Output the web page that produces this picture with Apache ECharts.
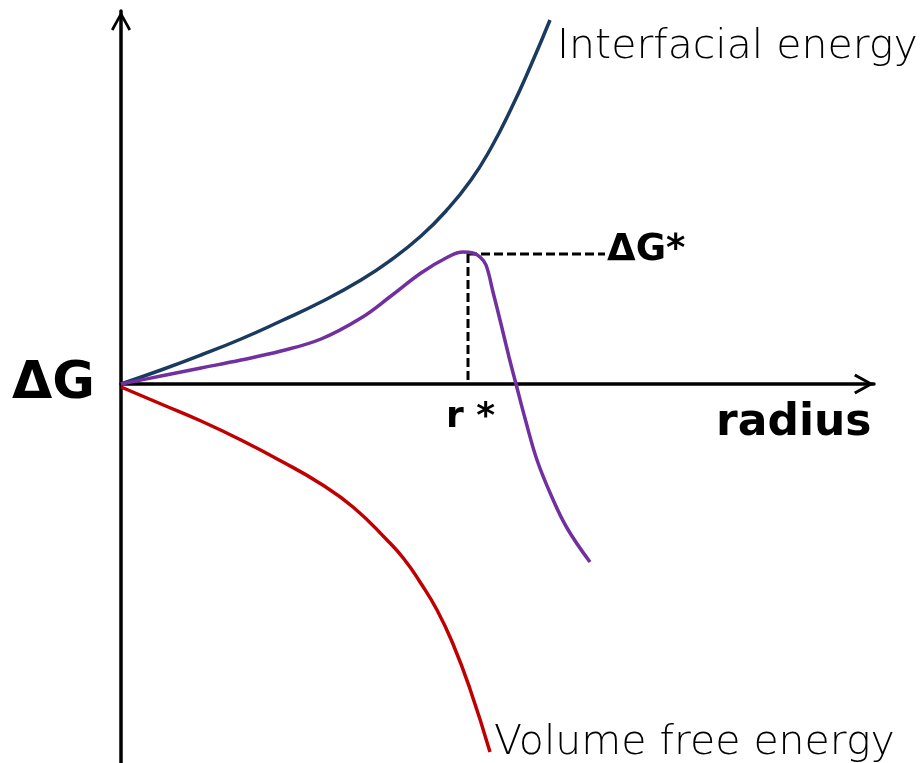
<!DOCTYPE html>
<html>
<head>
<meta charset="utf-8">
<script src="https://cdn.jsdelivr.net/npm/echarts@6/dist/echarts.min.js"></script>
<style>
  html, body { margin: 0; padding: 0; background: #fff; }
  #chart { width: 920px; height: 763px; }
</style>
</head>
<body>
<div id="chart"></div>
<script>
// radius (x) vs free energy change (y), arbitrary units
var interfacialEnergy = [[0,0],[40,14],[80,29],[120,45],[160,63],[200,82],[240,104],[270,124],[300,148],[325,173],[350,204],[370,236],[390,275],[410,319],[429,364]]
var totalEnergy = [[0,0],[40,8],[80,16],[120,24],[160,33],[200,45],[240,66],[270,88],[300,111],[325,126],[342,132],[352,131],[359,127],[365,119],[372,92],[380,60],[388,27],[395,0],[405,-38],[416,-76],[430,-111],[446,-144],[469,-178]]
var volumeEnergy = [[0,-3],[40,-20],[80,-37],[120,-56],[160,-77],[200,-100],[232,-123],[266,-156],[283,-175],[299,-198],[316,-226],[332,-260],[349,-305],[369,-368]]
var rStar = 347
var dGStar = 130
var dGStarLineEnd = 484

var chevron = 'path://M10,0 L20,18 L17.6,19.6 L10,5.6 L2.4,19.6 L0,18 Z'
var font = '"DejaVu Sans", sans-serif'

var chart = echarts.init(document.getElementById('chart'))

chart.setOption({
    backgroundColor: '#ffffff',
    animation: false,
    grid: { left: 121, right: 46, top: 11, bottom: 0 },
    xAxis: {
        type: 'value',
        min: 0,
        max: 753,
        axisLine: {
            onZero: true,
            symbol: ['none', chevron],
            symbolSize: [22, 20],
            symbolOffset: [0, -10],
            lineStyle: { color: '#000', width: 3.5 }
        },
        axisTick: { show: false },
        axisLabel: { show: false },
        splitLine: { show: false }
    },
    yAxis: {
        type: 'value',
        min: -379,
        max: 373,
        axisLine: {
            onZero: true,
            symbol: ['none', chevron],
            symbolSize: [20, 20],
            symbolOffset: [0, -10],
            lineStyle: { color: '#000', width: 3.5 }
        },
        axisTick: { show: false },
        axisLabel: { show: false },
        splitLine: { show: false }
    },
    series: [
        {
            name: 'Interfacial energy',
            type: 'line',
            data: interfacialEnergy,
            smooth: 0.5,
            showSymbol: false,
            lineStyle: { color: '#1b3a5f', width: 3.5 }
        },
        {
            name: 'Volume free energy',
            type: 'line',
            data: volumeEnergy,
            smooth: 0.5,
            showSymbol: false,
            lineStyle: { color: '#c00000', width: 3.5 }
        },
        {
            name: 'dG*',
            type: 'line',
            data: [[rStar, dGStar], [dGStarLineEnd, dGStar]],
            showSymbol: false,
            lineStyle: { color: '#000', width: 3, type: [9, 4] }
        },
        {
            name: 'r*',
            type: 'line',
            data: [[rStar, dGStar], [rStar, 0]],
            showSymbol: false,
            lineStyle: { color: '#000', width: 3, type: [9, 4] }
        },
        {
            name: 'Total',
            type: 'line',
            data: totalEnergy,
            smooth: 0.4,
            showSymbol: false,
            lineStyle: { color: '#7030a0', width: 3.5 }
        }
    ],
    graphic: [
        { type: 'text', left: 12, top: 358, style: { text: '\u0394G', font: 'bold 52px ' + font, fill: '#000' } },
        { type: 'text', left: 716, top: 402, style: { text: 'radius', font: 'bold 44px ' + font, fill: '#000' } },
        { type: 'text', left: 446, top: 400, style: { text: 'r *', font: 'bold 36px ' + font, fill: '#000' } },
        { type: 'text', left: 607, top: 232, style: { text: '\u0394G*', font: 'bold 37px ' + font, fill: '#000' } },
        { type: 'text', left: 557, top: 27, style: { text: 'Interfacial energy', font: '200 41px ' + font, fill: '#000' } },
        { type: 'text', left: 494, top: 723, style: { text: 'Volume free energy', font: '200 41px ' + font, fill: '#000' } }
    ]
})
</script>
</body>
</html>
